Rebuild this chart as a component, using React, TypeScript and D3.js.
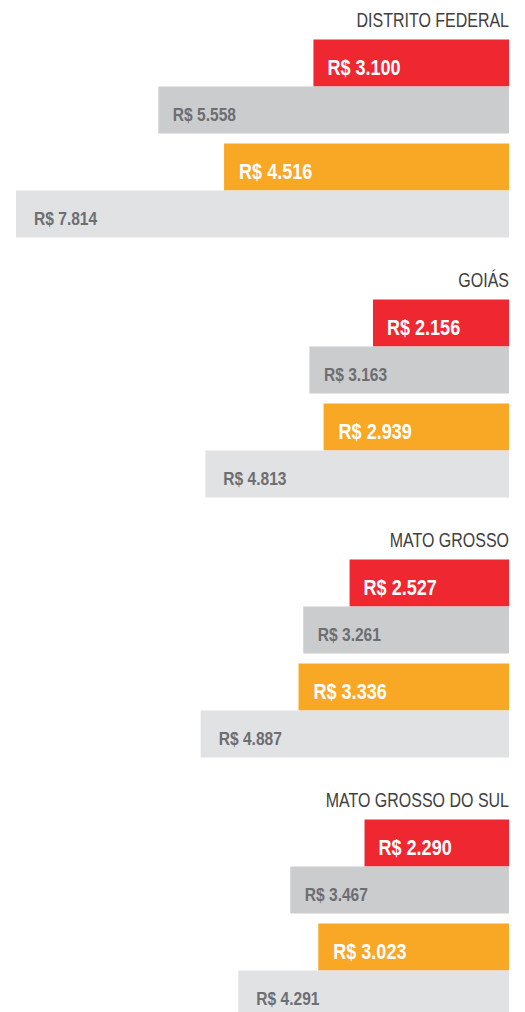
import React from "react";
import * as d3 from "d3";

const states = ["DISTRITO FEDERAL", "GOIÁS", "MATO GROSSO", "MATO GROSSO DO SUL"];
const seriesA = [3100, 2156, 2527, 2290]; // red
const seriesB = [5558, 3163, 3261, 3467]; // gray
const seriesC = [4516, 2939, 3336, 3023]; // orange
const seriesD = [7814, 4813, 4887, 4291]; // light gray
const seriesColors = ["#ee2730", "#cbccce", "#f9a825", "#e1e2e4"];
const labelColors = ["#ffffff", "#6d6e71", "#ffffff", "#6d6e71"];

const fmt = (v: number) => "R$ " + d3.format(",")(v).replace(/,/g, ".");

export default function App() {
  const W = 525;
  const H = 1012;
  const right = 509;
  const x = d3.scaleLinear().domain([0, 7814]).range([0, 493]);
  const groupStep = 260;
  const barOffsets = [39.5, 86.5, 143.5, 190.5];
  const barH = 47;
  const labelPad = [14, 14.5, 15, 18];
  const series = [seriesA, seriesB, seriesC, seriesD];
  const font = "'Liberation Sans', Arial, sans-serif";
  const squeeze = 0.82;

  return (
    <svg
      width={W}
      height={H}
      style={{ position: "absolute", top: 0, left: 0, display: "block" }}
    >
      <rect width={W} height={H} fill="#ffffff" />
      {states.map((s, i) => {
        const gy = i * groupStep;
        return (
          <g key={s} transform={`translate(0,${gy})`}>
            <text
              transform={`translate(${right},27) scale(${squeeze},1)`}
              textAnchor="end"
              fontFamily={font}
              fontSize={19.5}
              fill="#414042"
            >
              {s}
            </text>
            {series.map((ser, k) => {
              const w = x(ser[i]);
              const big = k % 2 === 0;
              const tx = right - w + labelPad[k];
              const ty = barOffsets[k] + (big ? 35 : 34);
              return (
                <g key={k}>
                  <rect
                    x={right - w}
                    y={barOffsets[k]}
                    width={w}
                    height={barH}
                    fill={seriesColors[k]}
                  />
                  <text
                    transform={`translate(${tx},${ty}) scale(${squeeze},1)`}
                    fontFamily={font}
                    fontSize={big ? 22 : 19}
                    fontWeight="bold"
                    fill={labelColors[k]}
                  >
                    {fmt(ser[i])}
                  </text>
                </g>
              );
            })}
          </g>
        );
      })}
    </svg>
  );
}
